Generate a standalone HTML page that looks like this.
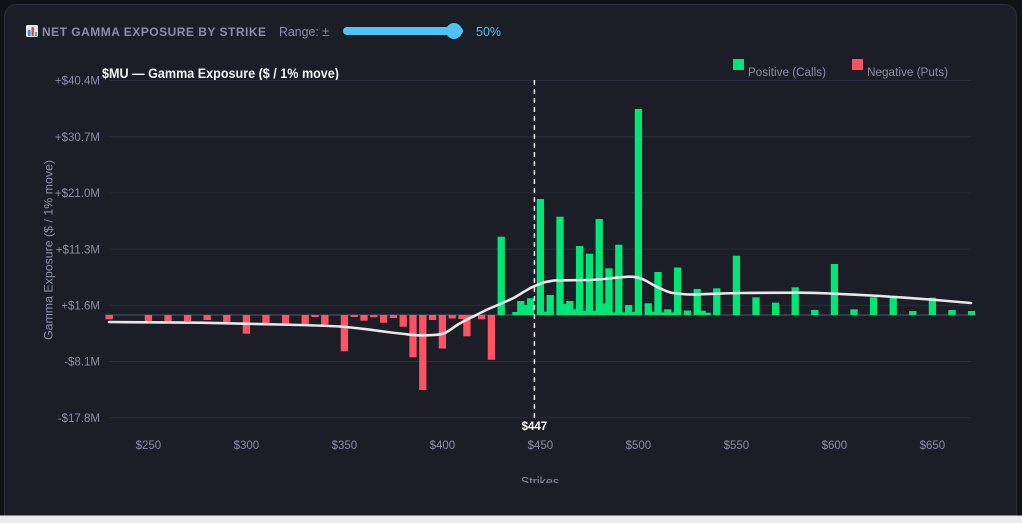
<!DOCTYPE html>
<html>
<head>
<meta charset="utf-8">
<style>
  html, body { margin:0; padding:0; background:#101216; }
  body { width:1022px; height:523px; overflow:hidden; }
  svg { display:block; font-family:"Liberation Sans", "DejaVu Sans", sans-serif; }
</style>
</head>
<body>
<svg width="1022" height="523" viewBox="0 0 1022 523" xmlns="http://www.w3.org/2000/svg">
  <defs>
    <clipPath id="cardclip"><rect x="0" y="0" width="1022" height="483"/></clipPath>
  </defs>
  <rect x="0" y="0" width="1022" height="523" fill="#101216"/>
  <rect x="4.5" y="4.5" width="1012" height="540" rx="12" ry="12" fill="#1b1d27" stroke="#2b2e3d" stroke-width="1"/>
  <rect x="0" y="515.5" width="1022" height="8" fill="#ebebeb"/>

  <rect x="26" y="25" width="12" height="12" rx="1.5" fill="#e6e8ee"/>
  <rect x="28" y="30" width="2.5" height="6" fill="#3f7fe0"/>
  <rect x="31.5" y="27" width="2.5" height="9" fill="#e04848"/>
  <rect x="35" y="32" width="2" height="4" fill="#3fbf5f"/>
  <text x="42" y="36" font-size="12" font-weight="bold" fill="#8a8fa6" textLength="224" lengthAdjust="spacing">NET GAMMA EXPOSURE BY STRIKE</text>
  <text x="279" y="36" font-size="13" fill="#8a8fa6" textLength="50" lengthAdjust="spacingAndGlyphs">Range: ±</text>
  <rect x="343" y="27" width="120" height="8" rx="4" fill="#4fc3f7"/>
  <circle cx="454" cy="31" r="8" fill="#4fc3f7"/>
  <text x="476" y="36" font-size="13" fill="#4fc3f7" textLength="25" lengthAdjust="spacingAndGlyphs">50%</text>

  <text x="102" y="78" font-size="13.5" font-weight="bold" fill="#f2f3f6" textLength="237" lengthAdjust="spacingAndGlyphs">$MU — Gamma Exposure ($ / 1% move)</text>

  <rect x="733" y="59" width="11" height="11" fill="#00e676"/>
  <text x="748" y="76" font-size="11.5" fill="#8a8fa6" textLength="78" lengthAdjust="spacingAndGlyphs">Positive (Calls)</text>
  <rect x="852" y="59" width="11" height="11" fill="#ff5263"/>
  <text x="867" y="76" font-size="11.5" fill="#8a8fa6" textLength="81" lengthAdjust="spacingAndGlyphs">Negative (Puts)</text>

  <g stroke="#2a2d3c" stroke-width="1">
    <line x1="109" y1="80.5" x2="971" y2="80.5"/>
    <line x1="109" y1="136.7" x2="971" y2="136.7"/>
    <line x1="109" y1="192.9" x2="971" y2="192.9"/>
    <line x1="109" y1="249.1" x2="971" y2="249.1"/>
    <line x1="109" y1="305.3" x2="971" y2="305.3"/>
    <line x1="109" y1="361.5" x2="971" y2="361.5"/>
    <line x1="109" y1="417.7" x2="971" y2="417.7"/>
  </g>
  <line x1="105" y1="315" x2="975" y2="315" stroke="#363a4b" stroke-width="2"/>

  <g font-size="11.5" fill="#8b90a6" text-anchor="end">
    <text x="100" y="84.7">+$40.4M</text>
    <text x="100" y="140.9">+$30.7M</text>
    <text x="100" y="197.1">+$21.0M</text>
    <text x="100" y="253.3">+$11.3M</text>
    <text x="100" y="309.5">+$1.6M</text>
    <text x="100" y="365.7">-$8.1M</text>
    <text x="100" y="421.9">-$17.8M</text>
  </g>
  <text transform="translate(52.5,250) rotate(-90)" font-size="12" fill="#8b90a6" text-anchor="middle" textLength="180" lengthAdjust="spacingAndGlyphs">Gamma Exposure ($ / 1% move)</text>

  <g font-size="11.5" fill="#8b90a6" text-anchor="middle">
    <text x="148.4" y="449">$250</text>
    <text x="246.4" y="449">$300</text>
    <text x="344.4" y="449">$350</text>
    <text x="442.4" y="449">$400</text>
    <text x="540.4" y="449">$450</text>
    <text x="638.4" y="449">$500</text>
    <text x="736.4" y="449">$550</text>
    <text x="834.4" y="449">$600</text>
    <text x="932.4" y="449">$650</text>
  </g>
  <g clip-path="url(#cardclip)">
    <text x="540" y="486" font-size="12.5" fill="#8b90a6" text-anchor="middle">Strikes</text>
  </g>

  <g fill="#ff5263">
    <rect x="105.55" y="315" width="7.3" height="4.3"/>
    <rect x="144.75" y="315" width="7.3" height="6.7"/>
    <rect x="164.35" y="315" width="7.3" height="6.7"/>
    <rect x="183.95" y="315" width="7.3" height="6"/>
    <rect x="203.55" y="315" width="7.3" height="5"/>
    <rect x="223.15" y="315" width="7.3" height="8.7"/>
    <rect x="242.75" y="315" width="7.3" height="18.7"/>
    <rect x="262.35" y="315" width="7.3" height="8.7"/>
    <rect x="281.95" y="315" width="7.3" height="9.3"/>
    <rect x="301.55" y="315" width="7.3" height="9.7"/>
    <rect x="311.35" y="315" width="7.3" height="2"/>
    <rect x="321.15" y="315" width="7.3" height="9.7"/>
    <rect x="340.75" y="315" width="7.3" height="36.3"/>
    <rect x="350.55" y="315" width="7.3" height="2"/>
    <rect x="360.35" y="315" width="7.3" height="5.7"/>
    <rect x="370.15" y="315" width="7.3" height="2.3"/>
    <rect x="379.95" y="315" width="7.3" height="7.7"/>
    <rect x="389.75" y="315" width="7.3" height="3"/>
    <rect x="399.55" y="315" width="7.3" height="11.7"/>
    <rect x="409.35" y="315" width="7.3" height="42.3"/>
    <rect x="419.15" y="315" width="7.3" height="75"/>
    <rect x="428.95" y="315" width="7.3" height="5"/>
    <rect x="438.75" y="315" width="7.3" height="33.5"/>
    <rect x="448.55" y="315" width="7.3" height="3.5"/>
    <rect x="458.35" y="315" width="7.3" height="4"/>
    <rect x="463.25" y="315" width="7.3" height="21.3"/>
    <rect x="468.15" y="315" width="7.3" height="2.5"/>
    <rect x="477.95" y="315" width="7.3" height="4.3"/>
    <rect x="487.75" y="315" width="7.3" height="44.7"/>
  </g>

  <g fill="#00e676">
    <rect x="497.55" y="236.7" width="7.3" height="78.3"/>
    <rect x="512.25" y="312" width="7.3" height="3"/>
    <rect x="517.15" y="301" width="7.3" height="14"/>
    <rect x="522.05" y="305" width="7.3" height="10"/>
    <rect x="526.95" y="298.3" width="7.3" height="16.7"/>
    <rect x="536.75" y="199" width="7.3" height="116"/>
    <rect x="541.65" y="311.7" width="7.3" height="3.3"/>
    <rect x="546.55" y="295" width="7.3" height="20"/>
    <rect x="556.35" y="216.7" width="7.3" height="98.3"/>
    <rect x="561.25" y="304" width="7.3" height="11"/>
    <rect x="566.15" y="301" width="7.3" height="14"/>
    <rect x="571.05" y="309.3" width="7.3" height="5.7"/>
    <rect x="575.95" y="246" width="7.3" height="69"/>
    <rect x="580.85" y="310.7" width="7.3" height="4.3"/>
    <rect x="585.75" y="253.7" width="7.3" height="61.3"/>
    <rect x="590.65" y="310.7" width="7.3" height="4.3"/>
    <rect x="595.55" y="219" width="7.3" height="96"/>
    <rect x="600.45" y="303.3" width="7.3" height="11.7"/>
    <rect x="605.35" y="268.3" width="7.3" height="46.7"/>
    <rect x="610.25" y="312.3" width="7.3" height="2.7"/>
    <rect x="615.15" y="244.7" width="7.3" height="70.3"/>
    <rect x="620.05" y="312.3" width="7.3" height="2.7"/>
    <rect x="624.95" y="305" width="7.3" height="10"/>
    <rect x="629.85" y="312" width="7.3" height="3"/>
    <rect x="634.75" y="109" width="7.3" height="206"/>
    <rect x="644.55" y="303.3" width="7.3" height="11.7"/>
    <rect x="649.45" y="311.7" width="7.3" height="3.3"/>
    <rect x="654.35" y="272" width="7.3" height="43"/>
    <rect x="659.25" y="312.3" width="7.3" height="2.7"/>
    <rect x="664.15" y="309.3" width="7.3" height="5.7"/>
    <rect x="669.05" y="312.3" width="7.3" height="2.7"/>
    <rect x="673.95" y="267.5" width="7.3" height="47.5"/>
    <rect x="683.75" y="310.5" width="7.3" height="4.5"/>
    <rect x="693.55" y="289" width="7.3" height="26"/>
    <rect x="698.45" y="310.7" width="7.3" height="4.3"/>
    <rect x="703.35" y="312.7" width="7.3" height="2.3"/>
    <rect x="713.15" y="288.3" width="7.3" height="26.7"/>
    <rect x="732.75" y="255.7" width="7.3" height="59.3"/>
    <rect x="752.35" y="297.3" width="7.3" height="17.7"/>
    <rect x="771.95" y="302.7" width="7.3" height="12.3"/>
    <rect x="791.55" y="287.3" width="7.3" height="27.7"/>
    <rect x="811.15" y="310" width="7.3" height="5"/>
    <rect x="830.75" y="264" width="7.3" height="51"/>
    <rect x="850.35" y="309.3" width="7.3" height="5.7"/>
    <rect x="869.95" y="297.3" width="7.3" height="17.7"/>
    <rect x="889.55" y="296" width="7.3" height="19"/>
    <rect x="909.15" y="311" width="7.3" height="4"/>
    <rect x="928.75" y="297.7" width="7.3" height="17.3"/>
    <rect x="948.35" y="310" width="7.3" height="5"/>
    <rect x="967.95" y="311" width="7.3" height="4"/>
  </g>

  <path d="M109,322 C150,322.3 180,322.5 200,322.7 C240,323.5 270,324.2 300,325 C320,325.6 330,326 340,326.5 C352,327.5 358,328.2 367,329.3 C380,331 390,332.6 400,333.5 C408,334.3 413,335.3 420,335.3 C428,335.3 435,335.2 440,334.3 C445,333.3 447,332 450,330 C454,327.5 456,325.5 460,323.3 C465,320.5 468,318.8 473,316.7 C479,313.8 484,310.8 490,308.3 C498,305 505,302 513,298.3 C519,295.3 523,292 527,290 C530,288.5 531,287.3 533,286.7 C539,284.5 542,282.5 547,281.7 C552,281 553,280.5 555,280.4 C570,280.2 580,280.1 590,280 C605,279.5 620,276.7 630,276.7 C636,276.7 639,277.5 643,279.3 C650,282.5 654,286 660,288.3 C665,290.3 668,292.3 673,293 C680,294 685,294.4 690,294.5 C710,294.2 725,293.2 740,293 C760,292.7 785,292.7 800,292.7 C812,292.7 821,293 830,293.5 C848,294.3 862,295 880,296 C898,297.2 912,298.2 930,299.5 C945,300.7 958,301.8 971,303" fill="none" stroke="#f2f2f2" stroke-width="2.6" stroke-linecap="round" stroke-linejoin="round" opacity="0.95"/>

  <line x1="534.4" y1="80" x2="534.4" y2="418" stroke="#f0f0f0" stroke-width="1.5" stroke-dasharray="5 4"/>
  <text x="534.4" y="430" font-size="11.5" font-weight="bold" fill="#ffffff" text-anchor="middle">$447</text>
</svg>
</body>
</html>
